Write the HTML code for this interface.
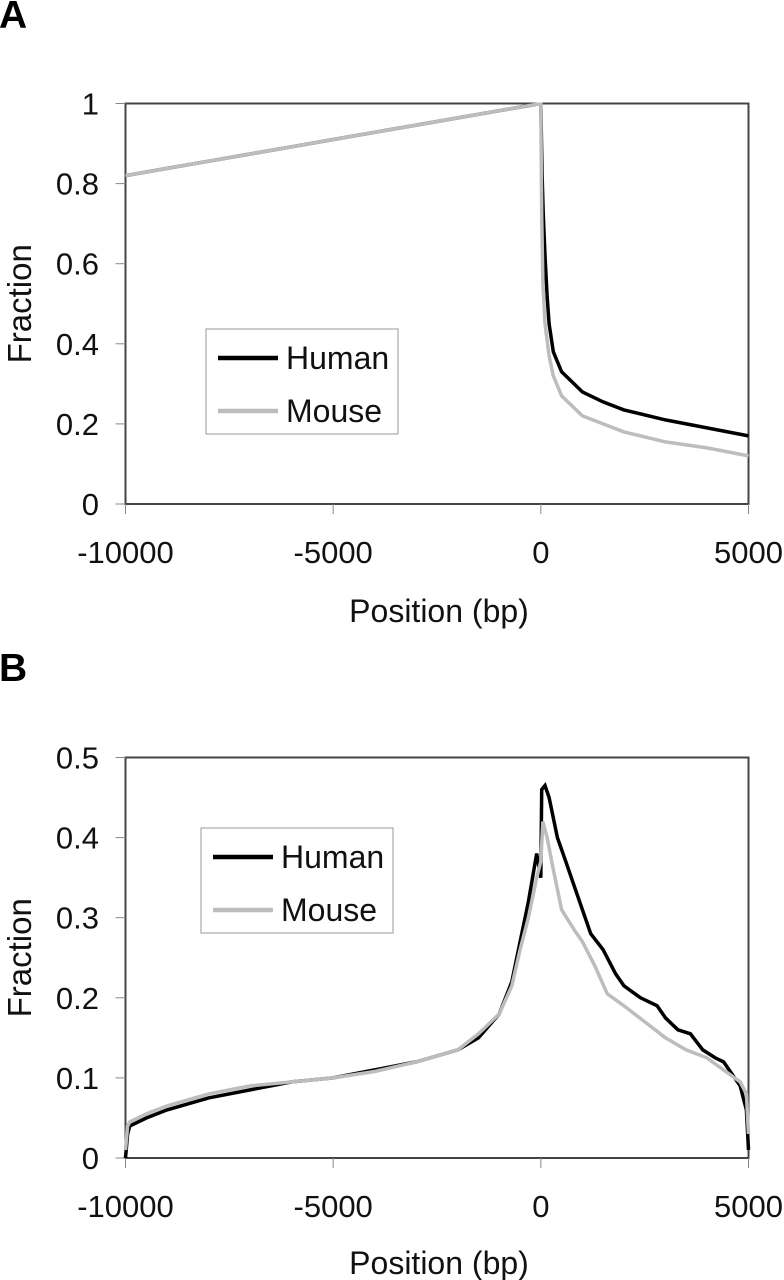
<!DOCTYPE html>
<html><head><meta charset="utf-8"><style>
body{margin:0;background:#fff;width:784px;height:1280px;overflow:hidden}
svg{display:block;font-family:"Liberation Sans",Arial,sans-serif}
</style></head><body>
<svg id="fig" width="784" height="1280">
<text x="-1" y="28" font-size="39" font-weight="bold">A</text>
<text x="-1" y="681" font-size="39" font-weight="bold">B</text>
</svg>
<script>
const xTicks=[-10000,-5000,0,5000];
const yTicksA=[0,0.2,0.4,0.6,0.8,1];
const yTickLabelsA=["0","0.2","0.4","0.6","0.8","1"];
const yTicksB=[0,0.1,0.2,0.3,0.4,0.5];
const yTickLabelsB=["0","0.1","0.2","0.3","0.4","0.5"];
const seriesNames=["Human","Mouse"];
const aHumanX=[-10000,-9000,-8000,-7000,-6000,-5000,-4000,-3000,-2000,-1000,-100,0,30,60,100,150,200,300,500,1000,1500,2000,3000,4000,5000];
const aHumanY=[0.82,0.838,0.856,0.874,0.892,0.91,0.928,0.946,0.964,0.982,0.998,0.998,0.82,0.72,0.62,0.52,0.45,0.38,0.33,0.28,0.255,0.235,0.21,0.19,0.17];
const aMouseX=[-10000,-9000,-8000,-7000,-6000,-5000,-4000,-3000,-2000,-1000,-100,0,20,50,100,200,300,500,1000,1500,2000,3000,4000,5000];
const aMouseY=[0.82,0.838,0.856,0.874,0.892,0.91,0.928,0.946,0.964,0.982,0.998,0.998,0.72,0.55,0.45,0.37,0.32,0.27,0.22,0.2,0.18,0.155,0.14,0.12];
const bHumanX=[-10000,-9950,-9900,-9500,-9000,-8000,-7000,-6000,-5000,-4000,-3000,-2000,-1500,-1000,-700,-500,-300,-100,0,20,100,200,400,600,800,1000,1200,1500,1800,2000,2400,2800,3000,3300,3600,3900,4200,4400,4600,4800,4950,5000];
const bHumanY=[0.0,0.03,0.04,0.05,0.06,0.075,0.085,0.095,0.1,0.11,0.12,0.135,0.15,0.18,0.22,0.27,0.32,0.38,0.35,0.46,0.465,0.45,0.4,0.37,0.34,0.31,0.28,0.26,0.23,0.215,0.2,0.19,0.175,0.16,0.155,0.135,0.125,0.12,0.105,0.09,0.06,0.01];
const bMouseX=[-10000,-9950,-9900,-9500,-9000,-8000,-7000,-6000,-5000,-4000,-3000,-2000,-1500,-1000,-700,-500,-300,-100,0,50,150,300,500,800,1000,1300,1600,2000,2500,3000,3500,4000,4400,4800,4950,5000];
const bMouseY=[0.01,0.04,0.045,0.055,0.065,0.08,0.09,0.095,0.1,0.108,0.12,0.135,0.155,0.18,0.215,0.26,0.3,0.35,0.37,0.42,0.4,0.36,0.31,0.285,0.27,0.24,0.205,0.19,0.17,0.15,0.135,0.125,0.11,0.095,0.08,0.03];

const NS="http://www.w3.org/2000/svg";
const svg=document.getElementById('fig');
function mk(tag,attrs,parent){const e=document.createElementNS(NS,tag);for(const k in attrs)e.setAttribute(k,attrs[k]);(parent||svg).appendChild(e);return e;}

function panel(p){
  const g=mk('g',{});
  
  
  const L=125.5,R=748.5,T=p.top,B=p.bottom;
  const sx=v=>L+(v+10000)/15000*(R-L);
  const sy=v=>B-(v/p.ymax)*(B-T);
  const box=mk('rect',{x:L,y:T,width:R-L,height:B-T,fill:'none',stroke:'#444','stroke-width':2},g);
  
  
  p.yTicks.forEach((v,i)=>{
    const y=sy(v);
    mk('line',{x1:L-10,x2:L,y1:y,y2:y,stroke:'#888','stroke-width':1},g);
    const t=mk('text',{x:99,y:y+11,'font-size':31,'text-anchor':'end',fill:'#111'},g);
    t.textContent=p.yLabels[i];
    
    
  });
  xTicks.forEach(v=>{
    const x=sx(v);
    mk('line',{x1:x,x2:x,y1:B,y2:B+10,stroke:'#888','stroke-width':1},g);
    const t=mk('text',{x:x,y:B+59,'font-size':31,'text-anchor':'middle',fill:'#111'},g);
    t.textContent=String(v);
    
    
  });
  const xt=mk('text',{x:439,y:p.xTitleY,'font-size':32,'text-anchor':'middle',fill:'#111'},g);
  xt.textContent='Position (bp)';
  
  
  const cy=(T+B)/2;
  const yt=mk('text',{x:31,y:cy,'font-size':33,'text-anchor':'middle',fill:'#111',transform:`rotate(-90 31 ${cy})`},g);
  yt.textContent='Fraction';
  
  
  function line(xs,ys,color,name){
    const pts=xs.map((x,i)=>sx(x).toFixed(1)+','+sy(ys[i]).toFixed(1)).join(' ');
    const pl=mk('polyline',{points:pts,fill:'none',stroke:color,'stroke-width':3.5,'stroke-linejoin':'miter'},g);
    
    
  }
  line(p.hx,p.hy,'#000','human-line');
  line(p.mx,p.my,'#bdbdbd','mouse-line');
  const lg=mk('g',{},g);
  
  
  mk('rect',{x:p.lx,y:p.ly,width:192,height:105,fill:'#fff',stroke:'#999','stroke-width':1},lg);
  [['#000',seriesNames[0],p.ly+29],['#bdbdbd',seriesNames[1],p.ly+82]].forEach(([c,n,y])=>{
    const e=mk('g',{},lg);
    
    
    mk('line',{x1:p.lx+12,x2:p.lx+72,y1:y,y2:y,stroke:c,'stroke-width':4.5},e);
    const t=mk('text',{x:p.lx+80,y:y+11,'font-size':32,fill:'#111'},e);
    t.textContent=n;
  });
}
panel({name:'panel-a-chart',top:103.5,bottom:504,ymax:1,yTicks:yTicksA,yLabels:yTickLabelsA,xTitleY:622,hx:aHumanX,hy:aHumanY,mx:aMouseX,my:aMouseY,lx:206,ly:329});
panel({name:'panel-b-chart',top:757.5,bottom:1158,ymax:0.5,yTicks:yTicksB,yLabels:yTickLabelsB,xTitleY:1274,hx:bHumanX,hy:bHumanY,mx:bMouseX,my:bMouseY,lx:201,ly:828});
</script>
</body></html>
